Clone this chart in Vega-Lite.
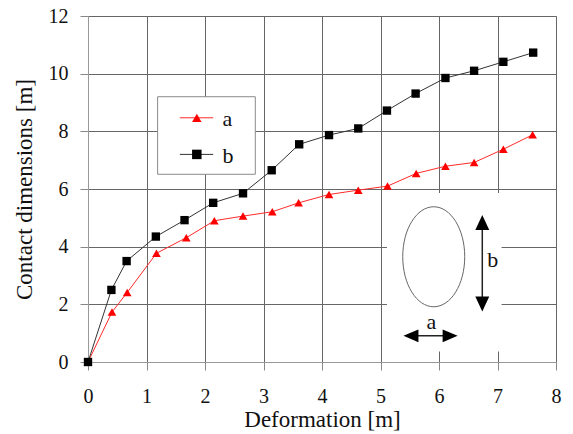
{
  "$schema": "https://vega.github.io/schema/vega-lite/v6.json",
  "width": 468,
  "height": 346,
  "autosize": "none",
  "padding": {"left": 88, "top": 16, "right": 17, "bottom": 72},
  "background": "white",
  "data": {"values": [{}]},
  "config": {
    "font": "Liberation Serif",
    "view": {"stroke": "#c8c8c8", "strokeWidth": 1},
    "axis": {
      "labelFont": "Liberation Serif",
      "titleFont": "Liberation Serif",
      "labelFontSize": 20,
      "titleFontSize": 23,
      "titleFontWeight": "normal",
      "labelColor": "#111",
      "titleColor": "#111",
      "grid": true,
      "gridColor": "#666",
      "gridWidth": 1,
      "gridOpacity": 1,
      "tickColor": "#888",
      "domainColor": "#999",
      "tickSize": 8,
      "labelFlush": false
    }
  },
  "datasets": {
    "series": [
      {"deformation": 0, "value": 0, "dim": "a"},
      {"deformation": 0.41, "value": 1.73, "dim": "a"},
      {"deformation": 0.67, "value": 2.41, "dim": "a"},
      {"deformation": 1.17, "value": 3.77, "dim": "a"},
      {"deformation": 1.68, "value": 4.31, "dim": "a"},
      {"deformation": 2.16, "value": 4.9, "dim": "a"},
      {"deformation": 2.65, "value": 5.06, "dim": "a"},
      {"deformation": 3.15, "value": 5.21, "dim": "a"},
      {"deformation": 3.6, "value": 5.52, "dim": "a"},
      {"deformation": 4.12, "value": 5.81, "dim": "a"},
      {"deformation": 4.62, "value": 5.96, "dim": "a"},
      {"deformation": 5.12, "value": 6.1, "dim": "a"},
      {"deformation": 5.61, "value": 6.54, "dim": "a"},
      {"deformation": 6.11, "value": 6.79, "dim": "a"},
      {"deformation": 6.6, "value": 6.92, "dim": "a"},
      {"deformation": 7.1, "value": 7.38, "dim": "a"},
      {"deformation": 7.6, "value": 7.88, "dim": "a"},
      {"deformation": 0, "value": 0, "dim": "b"},
      {"deformation": 0.4, "value": 2.5, "dim": "b"},
      {"deformation": 0.66, "value": 3.5, "dim": "b"},
      {"deformation": 1.16, "value": 4.35, "dim": "b"},
      {"deformation": 1.65, "value": 4.92, "dim": "b"},
      {"deformation": 2.14, "value": 5.52, "dim": "b"},
      {"deformation": 2.65, "value": 5.85, "dim": "b"},
      {"deformation": 3.14, "value": 6.65, "dim": "b"},
      {"deformation": 3.61, "value": 7.55, "dim": "b"},
      {"deformation": 4.12, "value": 7.87, "dim": "b"},
      {"deformation": 4.62, "value": 8.1, "dim": "b"},
      {"deformation": 5.11, "value": 8.72, "dim": "b"},
      {"deformation": 5.6, "value": 9.31, "dim": "b"},
      {"deformation": 6.11, "value": 9.85, "dim": "b"},
      {"deformation": 6.6, "value": 10.1, "dim": "b"},
      {"deformation": 7.1, "value": 10.41, "dim": "b"},
      {"deformation": 7.61, "value": 10.73, "dim": "b"}
    ]
  },
  "encoding": {
    "x": {
      "type": "quantitative",
      "scale": {"domain": [0, 8], "nice": false, "zero": false},
      "axis": {
        "title": "Deformation [m]",
        "values": [0, 1, 2, 3, 4, 5, 6, 7, 8],
        "grid": true,
        "labelPadding": 16,
        "titleBaseline": "alphabetic",
        "titleY": 64
      }
    },
    "y": {
      "type": "quantitative",
      "scale": {"domain": [0, 12], "nice": false},
      "axis": {
        "title": "Contact dimensions [m]",
        "values": [0, 2, 4, 6, 8, 10, 12],
        "grid": true,
        "labelPadding": 12,
        "titleBaseline": "alphabetic",
        "titleX": -57
      }
    }
  },
  "layer": [
    {
      "mark": {"type": "rect", "fill": "white", "stroke": "#8a8a8a", "strokeWidth": 1},
      "encoding": {
        "x": {"datum": 1.19},
        "x2": {"datum": 2.86},
        "y": {"datum": 9.2},
        "y2": {"datum": 6.51}
      }
    },
    {
      "mark": {"type": "rect", "fill": "white", "strokeWidth": 0},
      "encoding": {
        "x": {"datum": 5.11},
        "x2": {"datum": 7.07},
        "y": {"datum": 5.86},
        "y2": {"datum": 0.36}
      }
    },
    {
      "data": {"name": "series"},
      "mark": {"type": "line", "strokeWidth": 1},
      "encoding": {
        "x": {"field": "deformation", "type": "quantitative"},
        "y": {"field": "value", "type": "quantitative"},
        "stroke": {
          "field": "dim",
          "type": "nominal",
          "scale": {"domain": ["a", "b"], "range": ["#ff2a2a", "#333333"]},
          "legend": null
        }
      }
    },
    {
      "data": {"name": "series"},
      "mark": {"type": "point", "filled": true, "opacity": 1, "strokeWidth": 0},
      "encoding": {
        "x": {"field": "deformation", "type": "quantitative"},
        "y": {"field": "value", "type": "quantitative"},
        "fill": {
          "field": "dim",
          "type": "nominal",
          "scale": {"domain": ["a", "b"], "range": ["#ff0000", "#000000"]},
          "legend": null
        },
        "shape": {
          "field": "dim",
          "type": "nominal",
          "scale": {"domain": ["a", "b"], "range": ["triangle-up", "square"]},
          "legend": null
        },
        "size": {
          "field": "dim",
          "type": "nominal",
          "scale": {"domain": ["a", "b"], "range": [75, 70]},
          "legend": null
        }
      }
    },
    {
      "mark": {"type": "rule", "stroke": "#ff2a2a", "strokeWidth": 1},
      "encoding": {"x": {"datum": 1.57}, "x2": {"datum": 2.14}, "y": {"datum": 8.47}}
    },
    {
      "mark": {"type": "point", "shape": "triangle-up", "size": 90, "filled": true, "color": "#ff0000", "opacity": 1},
      "encoding": {"x": {"datum": 1.86}, "y": {"datum": 8.47}}
    },
    {
      "mark": {"type": "text", "text": "a", "font": "Liberation Serif", "fontSize": 22, "color": "#111", "baseline": "alphabetic", "align": "left"},
      "encoding": {"x": {"datum": 2.3}, "y": {"datum": 8.2}}
    },
    {
      "mark": {"type": "rule", "stroke": "#333333", "strokeWidth": 1},
      "encoding": {"x": {"datum": 1.57}, "x2": {"datum": 2.14}, "y": {"datum": 7.2}}
    },
    {
      "mark": {"type": "point", "shape": "square", "size": 90, "filled": true, "color": "#000000", "opacity": 1},
      "encoding": {"x": {"datum": 1.86}, "y": {"datum": 7.2}}
    },
    {
      "mark": {"type": "text", "text": "b", "font": "Liberation Serif", "fontSize": 22, "color": "#111", "baseline": "alphabetic", "align": "left"},
      "encoding": {"x": {"datum": 2.3}, "y": {"datum": 6.9}}
    },
    {
      "mark": {
        "type": "point",
        "shape": "M0,-1C0.3424,-1,0.62,-0.5523,0.62,0C0.62,0.5523,0.3424,1,0,1C-0.3424,1,-0.62,0.5523,-0.62,0C-0.62,-0.5523,-0.3424,-1,0,-1Z",
        "size": 10000,
        "filled": false,
        "stroke": "#666",
        "strokeWidth": 1,
        "opacity": 1
      },
      "encoding": {"x": {"datum": 5.91}, "y": {"datum": 3.65}}
    },
    {
      "mark": {"type": "rule", "stroke": "#222", "strokeWidth": 1.5},
      "encoding": {
        "x": {"datum": 6.74},
        "y": {"datum": 4.84},
        "y2": {"datum": 2.01}
      }
    },
    {
      "mark": {"type": "rule", "stroke": "#222", "strokeWidth": 1.5},
      "encoding": {
        "x": {"datum": 5.52},
        "x2": {"datum": 6.19},
        "y": {"datum": 0.91}
      }
    },
    {
      "mark": {"type": "point", "shape": "M0,-1L0.93,1L-0.93,1Z", "size": 225, "filled": true, "color": "#000", "opacity": 1},
      "encoding": {"x": {"datum": 6.74}, "y": {"datum": 4.84}}
    },
    {
      "mark": {"type": "point", "shape": "M0,1L0.93,-1L-0.93,-1Z", "size": 225, "filled": true, "color": "#000", "opacity": 1},
      "encoding": {"x": {"datum": 6.74}, "y": {"datum": 2.01}}
    },
    {
      "mark": {"type": "point", "shape": "M-1,0L1,-0.85L1,0.85Z", "size": 225, "filled": true, "color": "#000", "opacity": 1},
      "encoding": {"x": {"datum": 5.52}, "y": {"datum": 0.91}}
    },
    {
      "mark": {"type": "point", "shape": "M1,0L-1,-0.85L-1,0.85Z", "size": 225, "filled": true, "color": "#000", "opacity": 1},
      "encoding": {"x": {"datum": 6.19}, "y": {"datum": 0.91}}
    },
    {
      "mark": {"type": "text", "text": "b", "font": "Liberation Serif", "fontSize": 22, "color": "#111", "baseline": "middle", "align": "center"},
      "encoding": {"x": {"datum": 6.92}, "y": {"datum": 3.54}}
    },
    {
      "mark": {"type": "text", "text": "a", "font": "Liberation Serif", "fontSize": 22, "color": "#111", "baseline": "middle", "align": "center"},
      "encoding": {"x": {"datum": 5.87}, "y": {"datum": 1.4}}
    }
  ]
}
